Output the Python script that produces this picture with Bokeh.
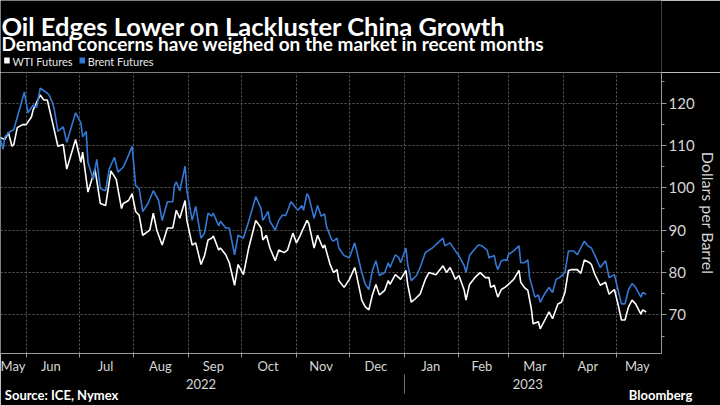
import pandas as pd
from bokeh.plotting import figure
from bokeh.layouts import column
from bokeh.models import (Range1d, FixedTicker, SingleIntervalTicker, DatetimeAxis, LinearAxis,
                          DatetimeTickFormatter, CustomJSTickFormatter)
from bokeh.core.properties import value
from bokeh.embed import file_html
from bokeh.resources import INLINE

FONT = "Lato"

# ---------------- data ----------------
wti_dates = [
    "2022-05-17", "2022-05-20", "2022-05-22", "2022-05-24", "2022-05-25", "2022-05-27", "2022-05-30",
    "2022-06-01", "2022-06-04", "2022-06-05", "2022-06-09", "2022-06-11", "2022-06-13", "2022-06-16",
    "2022-06-19", "2022-06-22", "2022-06-24", "2022-06-29", "2022-07-02", "2022-07-03", "2022-07-06",
    "2022-07-10", "2022-07-13", "2022-07-16", "2022-07-19", "2022-07-22", "2022-07-25", "2022-07-26",
    "2022-07-29", "2022-07-31", "2022-08-02", "2022-08-04", "2022-08-06", "2022-08-10", "2022-08-12",
    "2022-08-14", "2022-08-17", "2022-08-20", "2022-08-23", "2022-08-25", "2022-08-27", "2022-08-30",
    "2022-08-31", "2022-09-03", "2022-09-05", "2022-09-08", "2022-09-10", "2022-09-12", "2022-09-14",
    "2022-09-15", "2022-09-18", "2022-09-19", "2022-09-22", "2022-09-24", "2022-09-27", "2022-09-29",
    "2022-10-02", "2022-10-05", "2022-10-09", "2022-10-12", "2022-10-13", "2022-10-15", "2022-10-17",
    "2022-10-20", "2022-10-22", "2022-10-25", "2022-10-27", "2022-10-30", "2022-11-01", "2022-11-03",
    "2022-11-05", "2022-11-07", "2022-11-08", "2022-11-11", "2022-11-13", "2022-11-16", "2022-11-17",
    "2022-11-20", "2022-11-22", "2022-11-24", "2022-11-25", "2022-11-28", "2022-12-01", "2022-12-04",
    "2022-12-05", "2022-12-08", "2022-12-10", "2022-12-12", "2022-12-14", "2022-12-16", "2022-12-18",
    "2022-12-21", "2022-12-23", "2022-12-24", "2022-12-27", "2022-12-29", "2022-12-30", "2023-01-02",
    "2023-01-03", "2023-01-05", "2023-01-07", "2023-01-10", "2023-01-13", "2023-01-15", "2023-01-19",
    "2023-01-23", "2023-01-25", "2023-01-27", "2023-01-30", "2023-02-01", "2023-02-04", "2023-02-05",
    "2023-02-07", "2023-02-10", "2023-02-13", "2023-02-16", "2023-02-18", "2023-02-19", "2023-02-21",
    "2023-02-23", "2023-02-25", "2023-02-27", "2023-03-01", "2023-03-04", "2023-03-07", "2023-03-08",
    "2023-03-10", "2023-03-12", "2023-03-14", "2023-03-15", "2023-03-18", "2023-03-19", "2023-03-22",
    "2023-03-24", "2023-03-26", "2023-03-29", "2023-03-31", "2023-04-02", "2023-04-04", "2023-04-06",
    "2023-04-09", "2023-04-11", "2023-04-13", "2023-04-16", "2023-04-17", "2023-04-19", "2023-04-22",
    "2023-04-25", "2023-04-27", "2023-04-30", "2023-05-02", "2023-05-04", "2023-05-06", "2023-05-08",
    "2023-05-10", "2023-05-12", "2023-05-15", "2023-05-16", "2023-05-18",
]
wti_values = [
    111.9, 111.4, 113.0, 109.8, 110.2, 114.2, 114.9,
    114.9, 116.7, 118.4, 121.9, 120.7, 120.7, 115.3,
    109.8, 110.2, 104.4, 111.4, 106.0, 108.4, 99.0,
    104.4, 96.3, 95.8, 104.0, 102.0, 95.1, 96.3,
    97.0, 98.6, 94.4, 93.5, 88.8, 90.0, 94.0,
    90.0, 86.5, 90.5, 90.5, 94.7, 92.8, 97.0,
    92.3, 86.5, 87.0, 81.9, 84.0, 87.7, 88.1,
    88.6, 85.3, 85.8, 84.2, 82.3, 77.0, 81.9,
    79.5, 85.8, 92.3, 90.5, 87.7, 88.8, 85.8,
    82.8, 85.3, 84.7, 85.3, 89.3, 87.0, 88.6,
    90.5, 92.3, 91.6, 85.8, 88.8, 85.8, 86.5,
    82.0, 80.0, 80.7, 78.1, 76.5, 78.4, 81.2,
    79.5, 73.5, 71.9, 71.2, 74.7, 77.2, 74.7,
    75.8, 78.1, 77.2, 79.5, 78.8, 78.4, 80.5,
    77.2, 73.0, 73.7, 74.9, 78.4, 80.0, 79.5,
    81.6, 80.0, 81.2, 78.4, 79.3, 75.8, 73.5,
    77.2, 78.8, 80.0, 78.8, 78.8, 76.5, 77.0,
    74.2, 76.0, 76.5, 77.2, 78.4, 80.5, 77.7,
    76.5, 75.8, 71.4, 67.9, 68.4, 66.7, 69.1,
    70.7, 69.1, 72.6, 73.0, 75.3, 80.5, 80.7,
    80.7, 79.8, 83.0, 82.3, 81.9, 79.5, 77.0,
    77.7, 74.9, 76.0, 72.6, 68.8, 68.8, 71.9,
    73.5, 72.6, 70.2, 71.2, 70.7,
]

brent_dates = [
    "2022-05-17", "2022-05-19", "2022-05-20", "2022-05-23", "2022-05-25", "2022-05-31", "2022-06-02",
    "2022-06-05", "2022-06-07", "2022-06-09", "2022-06-13", "2022-06-14", "2022-06-16", "2022-06-17",
    "2022-06-19", "2022-06-22", "2022-06-24", "2022-06-29", "2022-07-02", "2022-07-03", "2022-07-05",
    "2022-07-06", "2022-07-09", "2022-07-11", "2022-07-13", "2022-07-16", "2022-07-18", "2022-07-21",
    "2022-07-23", "2022-07-26", "2022-07-28", "2022-07-31", "2022-08-02", "2022-08-04", "2022-08-06",
    "2022-08-09", "2022-08-12", "2022-08-15", "2022-08-17", "2022-08-20", "2022-08-23", "2022-08-24",
    "2022-08-25", "2022-08-27", "2022-08-30", "2022-08-31", "2022-09-03", "2022-09-05", "2022-09-08",
    "2022-09-10", "2022-09-12", "2022-09-14", "2022-09-15", "2022-09-18", "2022-09-19", "2022-09-22",
    "2022-09-24", "2022-09-27", "2022-09-29", "2022-10-02", "2022-10-05", "2022-10-09", "2022-10-12",
    "2022-10-13", "2022-10-16", "2022-10-17", "2022-10-20", "2022-10-22", "2022-10-24", "2022-10-26",
    "2022-10-29", "2022-11-01", "2022-11-02", "2022-11-04", "2022-11-05", "2022-11-07", "2022-11-08",
    "2022-11-11", "2022-11-13", "2022-11-15", "2022-11-17", "2022-11-18", "2022-11-21", "2022-11-22",
    "2022-11-24", "2022-11-25", "2022-11-28", "2022-12-01", "2022-12-04", "2022-12-05", "2022-12-08",
    "2022-12-10", "2022-12-12", "2022-12-14", "2022-12-16", "2022-12-18", "2022-12-21", "2022-12-23",
    "2022-12-24", "2022-12-27", "2022-12-29", "2022-12-30", "2023-01-02", "2023-01-03", "2023-01-05",
    "2023-01-08", "2023-01-10", "2023-01-13", "2023-01-15", "2023-01-17", "2023-01-20", "2023-01-23",
    "2023-01-24", "2023-01-27", "2023-01-30", "2023-02-01", "2023-02-04", "2023-02-05", "2023-02-07",
    "2023-02-09", "2023-02-12", "2023-02-14", "2023-02-17", "2023-02-18", "2023-02-21", "2023-02-22",
    "2023-02-23", "2023-02-25", "2023-02-27", "2023-02-28", "2023-03-01", "2023-03-04", "2023-03-07",
    "2023-03-08", "2023-03-10", "2023-03-12", "2023-03-13", "2023-03-15", "2023-03-16", "2023-03-18",
    "2023-03-19", "2023-03-22", "2023-03-24", "2023-03-26", "2023-03-28", "2023-03-30", "2023-04-02",
    "2023-04-04", "2023-04-07", "2023-04-09", "2023-04-13", "2023-04-15", "2023-04-17", "2023-04-19",
    "2023-04-22", "2023-04-25", "2023-04-27", "2023-04-30", "2023-05-02", "2023-05-04", "2023-05-06",
    "2023-05-08", "2023-05-10", "2023-05-12", "2023-05-15", "2023-05-16", "2023-05-18",
]
brent_values = [
    112.1, 109.1, 112.0, 113.3, 113.7, 122.6, 117.7,
    119.5, 119.0, 123.5, 122.3, 121.9, 120.0, 118.4,
    113.3, 114.4, 110.7, 117.7, 115.3, 112.0, 113.3,
    106.0, 102.0, 106.7, 99.8, 99.3, 104.4, 107.2,
    103.7, 104.9, 106.7, 109.8, 100.5, 99.8, 94.4,
    96.3, 99.3, 97.0, 92.3, 96.7, 96.7, 100.5,
    101.4, 99.3, 105.1, 99.3, 92.3, 95.6, 88.1,
    89.3, 94.0, 93.3, 94.0, 91.0, 92.1, 90.5,
    90.5, 84.2, 88.8, 88.1, 92.1, 97.9, 95.1,
    92.3, 94.4, 92.1, 90.0, 92.3, 93.5, 93.5,
    96.7, 95.1, 94.7, 95.8, 94.7, 98.6, 97.9,
    92.8, 95.8, 93.3, 93.8, 90.9, 87.7, 87.4,
    88.1, 85.8, 84.0, 83.5, 87.0, 85.3, 80.0,
    77.2, 76.0, 80.5, 82.8, 79.3, 80.0, 82.3,
    81.2, 84.2, 83.5, 82.3, 85.8, 81.9, 78.1,
    79.3, 81.2, 84.7, 85.3, 85.8, 87.0, 88.1,
    86.3, 87.0, 85.1, 84.0, 81.6, 80.0, 84.0,
    85.1, 86.5, 86.3, 85.3, 83.5, 84.0, 81.9,
    80.7, 82.8, 83.0, 82.8, 84.2, 85.1, 86.3,
    82.3, 82.3, 83.0, 78.8, 75.8, 74.2, 74.7,
    73.0, 75.3, 76.5, 75.3, 78.4, 78.8, 80.0,
    85.1, 85.1, 84.2, 87.4, 86.3, 85.8, 84.0,
    81.2, 82.8, 78.8, 79.5, 76.0, 72.6, 72.6,
    76.0, 77.4, 76.5, 74.2, 75.3, 74.9,
]

series_names = ["WTI Futures", "Brent Futures"]
month_starts = ["2022-06-01", "2022-07-01", "2022-08-01", "2022-09-01", "2022-10-01", "2022-11-01",
                "2022-12-01", "2023-01-01", "2023-02-01", "2023-03-01", "2023-04-01", "2023-05-01"]
month_label_dates = ["2022-05-24", "2022-06-15", "2022-07-16", "2022-08-16", "2022-09-15", "2022-10-16",
                     "2022-11-15", "2022-12-16", "2023-01-16", "2023-02-14", "2023-03-16", "2023-04-15",
                     "2023-05-13"]
year_label_dates = ["2022-09-08", "2023-03-12"]
year_break_dates = ["2023-01-01"]
y_tick_step = 10

title_text = "Oil Edges Lower on Lackluster China Growth"
subtitle_text = "Demand concerns have weighed on the market in recent months"
y_label = "Dollars per Barrel"
source_text = "Source: ICE, Nymex"
brand_text = "Bloomberg"

# ---------------- styling ----------------
WHITE = "#ffffff"
BLUE = "#3479d6"
GRID = "#5e5e5e"
AXIS = "#9a9a9a"
TICKTXT = "#d6d6d6"
HEADER_H = 72


def ms(s):
    return float(pd.Timestamp(s).value // 10**6)


def fmt(f):
    return DatetimeTickFormatter(microseconds=f, milliseconds=f, seconds=f, minsec=f, minutes=f,
                                 hourmin=f, hours=f, days=f, months=f, years=f)


# ---------------- header (title, subtitle, legend) ----------------
h = figure(width=720, height=HEADER_H, x_range=Range1d(0, 720), y_range=Range1d(HEADER_H, 0),
           x_axis_location=None, y_axis_location=None, title_location=None,
           output_backend="svg", toolbar_location=None,
           background_fill_color="black", border_fill_color="black", outline_line_color=None,
           min_border=0)
h.grid.visible = False
h.text(x=[1], y=[25], text=[title_text], text_font=value(FONT), text_font_size="25.5px",
       text_font_style="bold", text_color=WHITE, text_baseline="alphabetic", text_align="left")
h.text(x=[1], y=[43], text=[subtitle_text], text_font=value(FONT), text_font_size="19px",
       text_font_style="bold", text_color=WHITE, text_baseline="alphabetic", text_align="left")
# legend: colour swatches + labels
h.rect(x=[7, 89], y=[60, 60], width=6, height=6, fill_color=[WHITE, BLUE], line_color=None)
h.text(x=[13, 95], y=[60.5, 60.5], text=series_names, text_font=value(FONT), text_font_size="11px",
       text_color="#e6e6e6", text_baseline="middle", text_align="left")

# ---------------- main chart ----------------
p = figure(width=720, height=405 - HEADER_H, x_axis_type="datetime", y_axis_location="right",
           x_range=Range1d(pd.Timestamp("2022-05-17 12:00"), pd.Timestamp("2023-05-26 16:00")),
           y_range=Range1d(60.9, 127.2),
           output_backend="svg", toolbar_location=None, title_location=None,
           background_fill_color="black", border_fill_color="black", outline_line_color=None,
           min_border=0)

month_ticker = FixedTicker(ticks=[ms(d) for d in month_starts])
y_ticker = SingleIntervalTicker(interval=y_tick_step, num_minor_ticks=2)
p.xgrid.ticker = month_ticker
p.ygrid.ticker = y_ticker
for g in (p.xgrid[0], p.ygrid[0]):
    g.grid_line_color = GRID
    g.grid_line_dash = "2 2"
    g.grid_line_width = 1

p.line(x=pd.to_datetime(wti_dates), y=wti_values, line_color=WHITE, line_width=1.6)
p.line(x=pd.to_datetime(brent_dates), y=brent_values, line_color=BLUE, line_width=1.6)

# right y axis
ya = p.yaxis[0]
ya.ticker = y_ticker
ya.axis_line_color = AXIS
ya.major_tick_line_color = AXIS
ya.minor_tick_line_color = AXIS
ya.major_tick_out = 5
ya.major_tick_in = 0
ya.minor_tick_out = 3
ya.minor_tick_in = 0
ya.major_label_standoff = 2
ya.major_label_text_font = FONT
ya.major_label_text_font_size = "15px"
ya.major_label_text_color = TICKTXT
ya.axis_label = y_label
ya.axis_label_text_font = FONT
ya.axis_label_text_font_size = "16px"
ya.axis_label_text_font_style = "normal"
ya.axis_label_text_color = TICKTXT
ya.axis_label_standoff = 1

# bottom: month labels (major, mid-month) and month boundary ticks (minor)
xa = p.xaxis[0]
xa.ticker = FixedTicker(ticks=[ms(d) for d in month_label_dates],
                        minor_ticks=[ms(d) for d in month_starts])
xa.formatter = fmt("%b")
xa.axis_line_color = AXIS
xa.major_tick_line_color = None
xa.major_tick_out = 0
xa.major_tick_in = 0
xa.minor_tick_line_color = AXIS
xa.minor_tick_out = 4
xa.minor_tick_in = 0
xa.major_label_standoff = 0
xa.major_label_text_font = FONT
xa.major_label_text_font_size = "13px"
xa.major_label_text_color = TICKTXT

year_axis = DatetimeAxis(ticker=FixedTicker(ticks=[ms(d) for d in year_label_dates],
                                            minor_ticks=[ms(d) for d in year_break_dates]),
                         formatter=fmt("%Y"), axis_line_color=None, major_tick_line_color=None,
                         major_tick_out=0, major_tick_in=0,
                         minor_tick_line_color="#6e6e6e", minor_tick_out=17, minor_tick_in=2,
                         major_label_standoff=-15,
                         major_label_text_font=FONT, major_label_text_font_size="13px",
                         major_label_text_color=TICKTXT)
p.add_layout(year_axis, "below")

p.extra_x_ranges = {"px": Range1d(0, 671)}
source_axis = LinearAxis(x_range_name="px", ticker=FixedTicker(ticks=[62, 670]),
                         formatter=CustomJSTickFormatter(
                             code="return tick < 300 ? %r : %r;" % (source_text, brand_text)),
                         axis_line_color=None, major_tick_line_color=None, minor_tick_line_color=None,
                         major_tick_out=0, major_tick_in=0, minor_tick_out=0, minor_tick_in=0,
                         major_label_standoff=-5, major_label_text_font=FONT,
                         major_label_text_font_size="13px", major_label_text_font_style="bold",
                         major_label_text_color=WHITE)
p.add_layout(source_axis, "below")

layout = column(h, p, spacing=0)
open("out.html", "w").write(file_html(layout, INLINE))
